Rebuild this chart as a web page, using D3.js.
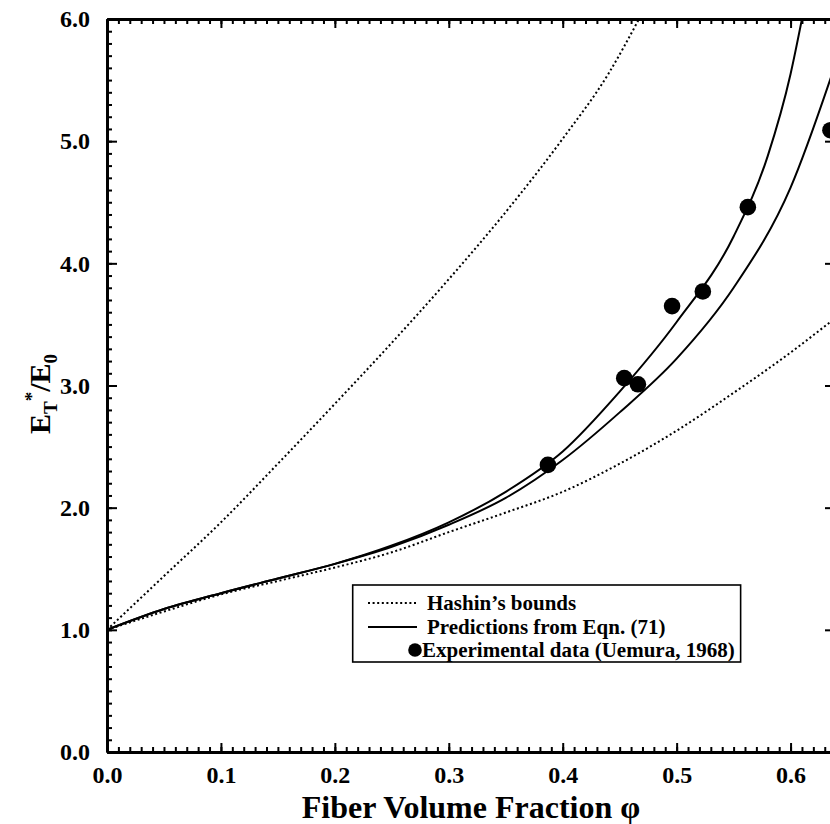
<!DOCTYPE html>
<html>
<head>
<meta charset="utf-8">
<script src="https://cdn.jsdelivr.net/npm/d3@7"></script>
<style>
  html, body { margin: 0; padding: 0; background: #fff; }
  svg { display: block; }
  text { font-family: "Liberation Serif", "Times New Roman", serif; font-weight: bold; fill: #000; }
</style>
</head>
<body>
<svg id="chart" width="830" height="824"></svg>
<script>
// ---- data ----
const xTickValues = [0, 0.1, 0.2, 0.3, 0.4, 0.5, 0.6];
const yTickValues = [0, 1, 2, 3, 4, 5, 6];

// Hashin's upper bound (dotted)
const phiUpper = [0, 0.05, 0.10, 0.15, 0.20, 0.25, 0.30, 0.35, 0.40, 0.44, 0.467];
const eUpper   = [1.00, 1.44, 1.88, 2.36, 2.85, 3.35, 3.87, 4.42, 5.02, 5.55, 6.0];

// Hashin's lower bound (dotted)
const phiLower = [0, 0.05, 0.10, 0.15, 0.20, 0.25, 0.30, 0.35, 0.40, 0.45, 0.50, 0.55, 0.60, 0.639];
const eLower   = [1.00, 1.15, 1.29, 1.40, 1.51, 1.635, 1.80, 1.96, 2.13, 2.36, 2.63, 2.94, 3.27, 3.55];

// Predictions from Eqn. (71) - steeper curve
const phiPredA = [0, 0.05, 0.10, 0.15, 0.20, 0.25, 0.30, 0.35, 0.40, 0.45, 0.50, 0.55, 0.58, 0.60, 0.61];
const ePredA   = [1.00, 1.17, 1.30, 1.42, 1.54, 1.69, 1.88, 2.13, 2.46, 2.95, 3.52, 4.22, 4.88, 5.55, 6.0];

// Predictions from Eqn. (71) - second curve
const phiPredB = [0, 0.05, 0.10, 0.15, 0.20, 0.25, 0.30, 0.35, 0.40, 0.45, 0.50, 0.55, 0.60, 0.639];
const ePredB   = [1.00, 1.17, 1.30, 1.42, 1.54, 1.68, 1.86, 2.08, 2.39, 2.78, 3.22, 3.80, 4.62, 5.62];

// Experimental data (Uemura, 1968)
const phiExp = [0.387, 0.454, 0.466, 0.496, 0.523, 0.5625, 0.635];
const eExp   = [2.35, 3.06, 3.01, 3.65, 3.77, 4.46, 5.09];

const legendLabels = ["Hashin\u2019s bounds", "Predictions from Eqn. (71)", "Experimental data (Uemura, 1968)"];

// ---- drawing ----
const svg = d3.select("#chart");
const x = d3.scaleLinear().domain([0, 0.639]).range([107, 835]);
const y = d3.scaleLinear().domain([0, 6]).range([752, 19]);

const zip = (a, b) => a.map((v, i) => [v, b[i]]);

svg.append("defs").append("clipPath").attr("id", "plotclip")
  .append("rect").attr("x", x(0)).attr("y", y(6)).attr("width", x(0.639) - x(0)).attr("height", y(0) - y(6));

const plot = svg.append("g").attr("clip-path", "url(#plotclip)");
const line = d3.line().x(d => x(d[0])).y(d => y(d[1])).curve(d3.curveMonotoneX);

plot.append("path").datum(zip(phiUpper, eUpper)).attr("d", line)
  .attr("fill", "none").attr("stroke", "#000").attr("stroke-width", 2).attr("stroke-dasharray", "2,2.6");
plot.append("path").datum(zip(phiLower, eLower)).attr("d", line)
  .attr("fill", "none").attr("stroke", "#000").attr("stroke-width", 2).attr("stroke-dasharray", "2,2.6");
plot.append("path").datum(zip(phiPredA, ePredA)).attr("d", line)
  .attr("fill", "none").attr("stroke", "#000").attr("stroke-width", 2);
plot.append("path").datum(zip(phiPredB, ePredB)).attr("d", line)
  .attr("fill", "none").attr("stroke", "#000").attr("stroke-width", 2);

svg.append("g").selectAll("circle").data(zip(phiExp, eExp)).join("circle")
  .attr("cx", d => x(d[0])).attr("cy", d => y(d[1])).attr("r", 8.3).attr("fill", "#000");

// ---- axes ----
const xMinor = d3.range(0, 64).map(i => i / 100);
const yMinor = d3.range(0, 61).map(i => i / 10);

function styleAxis(g) {
  g.selectAll("path.domain").attr("stroke", "#000").attr("stroke-width", 2.8);
  g.selectAll(".tick line").attr("stroke", "#000").attr("stroke-width", 2);
}

// bottom
svg.append("g").attr("transform", `translate(0,${y(0)})`)
  .call(d3.axisBottom(x).tickValues(xMinor).tickSizeInner(-5).tickSizeOuter(0).tickFormat(""))
  .call(styleAxis);
const gx = svg.append("g").attr("transform", `translate(0,${y(0)})`)
  .call(d3.axisBottom(x).tickValues(xTickValues).tickSizeInner(-9).tickSizeOuter(0).tickPadding(14).tickFormat(d3.format(".1f")))
  .call(styleAxis);
gx.selectAll("text").attr("font-size", 24);

// top
svg.append("g").attr("transform", `translate(0,${y(6)})`)
  .call(d3.axisTop(x).tickValues(xMinor).tickSizeInner(-5).tickSizeOuter(0).tickFormat(""))
  .call(styleAxis);
svg.append("g").attr("transform", `translate(0,${y(6)})`)
  .call(d3.axisTop(x).tickValues(xTickValues).tickSizeInner(-9).tickSizeOuter(0).tickFormat(""))
  .call(styleAxis);

// left
svg.append("g").attr("transform", `translate(${x(0)},0)`)
  .call(d3.axisLeft(y).tickValues(yMinor).tickSizeInner(-5).tickSizeOuter(0).tickFormat(""))
  .call(styleAxis);
const gy = svg.append("g").attr("transform", `translate(${x(0)},0)`)
  .call(d3.axisLeft(y).tickValues(yTickValues).tickSizeInner(-10).tickSizeOuter(0).tickPadding(17).tickFormat(d3.format(".1f")))
  .call(styleAxis);
gy.selectAll("text").attr("font-size", 24);

// right
svg.append("g").attr("transform", `translate(${x(0.639)},0)`)
  .call(d3.axisRight(y).tickValues(yMinor).tickSizeInner(-5).tickSizeOuter(0).tickFormat(""))
  .call(styleAxis);
svg.append("g").attr("transform", `translate(${x(0.639)},0)`)
  .call(d3.axisRight(y).tickValues(yTickValues).tickSizeInner(-10).tickSizeOuter(0).tickFormat(""))
  .call(styleAxis);

// axis titles
svg.append("text").attr("x", (x(0) + x(0.639)) / 2).attr("y", 818)
  .attr("text-anchor", "middle").attr("font-size", 32).text("Fiber Volume Fraction \u03C6");

const yt = svg.append("text").attr("transform", `translate(50,394) rotate(-90)`)
  .attr("text-anchor", "middle").attr("font-size", 30);
yt.append("tspan").text("E");
yt.append("tspan").attr("font-size", 19).attr("dy", 7).text("T");
yt.append("tspan").attr("font-size", 19).attr("dy", -19).text("*");
yt.append("tspan").attr("dy", 12).text("/E");
yt.append("tspan").attr("font-size", 19).attr("dy", 7).text("0");

// ---- legend ----
const lg = svg.append("g");
const box = lg.append("rect").attr("x", 352.7).attr("y", 585).attr("height", 77)
  .attr("fill", "#fff").attr("stroke", "#000").attr("stroke-width", 1.6);
const rowY = [603, 627, 650];
lg.append("line").attr("x1", 368).attr("x2", 417).attr("y1", rowY[0]).attr("y2", rowY[0])
  .attr("stroke", "#000").attr("stroke-width", 2).attr("stroke-dasharray", "2,2.6");
lg.append("line").attr("x1", 368).attr("x2", 417).attr("y1", rowY[1]).attr("y2", rowY[1])
  .attr("stroke", "#000").attr("stroke-width", 2);
lg.append("circle").attr("cx", 415).attr("cy", rowY[2]).attr("r", 6.8).attr("fill", "#000");
const textX = [427, 427, 422];
let maxEnd = 0;
legendLabels.forEach((t, i) => {
  const tx = lg.append("text").attr("x", textX[i]).attr("y", rowY[i] + 7).attr("font-size", 21).text(t);
  maxEnd = Math.max(maxEnd, textX[i] + tx.node().getComputedTextLength());
});
box.attr("width", maxEnd + 6 - 352.7);
</script>
</body>
</html>
